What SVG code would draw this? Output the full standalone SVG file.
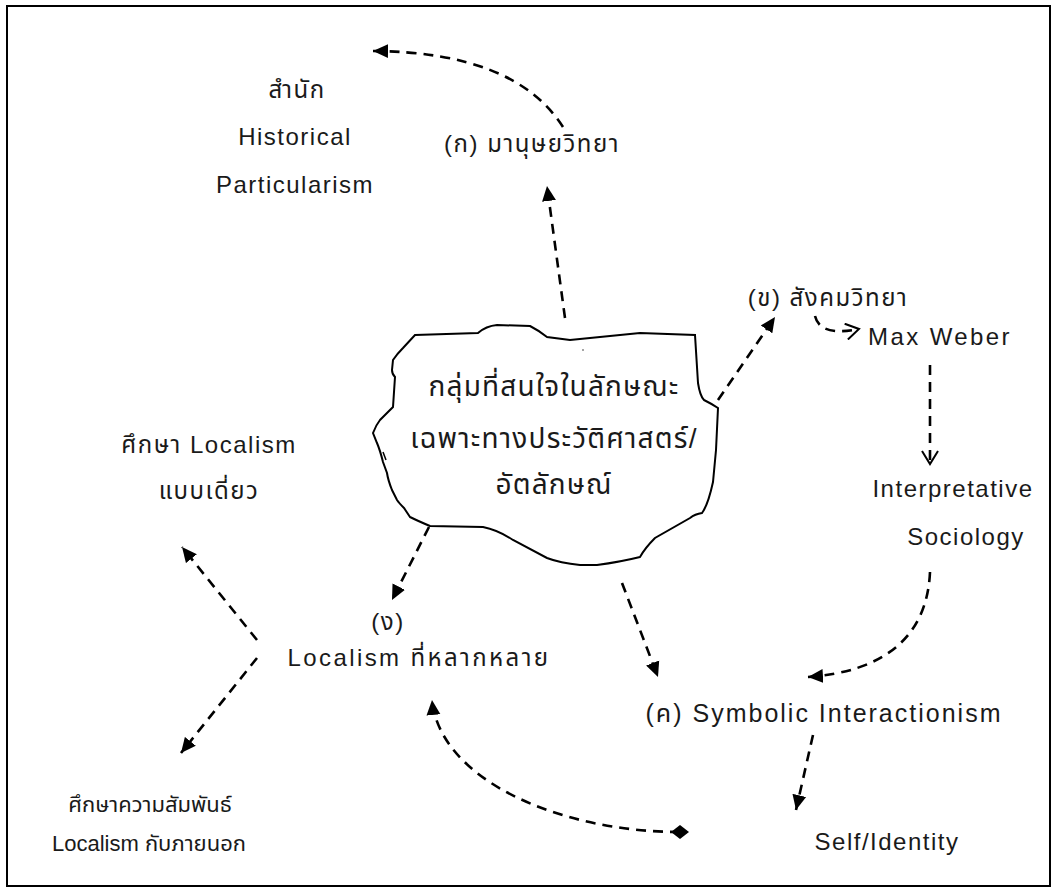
<svg xmlns="http://www.w3.org/2000/svg" width="1058" height="892" viewBox="0 0 1058 892">
  <style>
    .lbl { font-family: "Liberation Sans", "Noto Sans Thai", "Noto Sans", "DejaVu Sans", sans-serif; font-size: 24px; fill: #1a1a1a; letter-spacing: 1.5px; }
    .small { font-size: 22px; letter-spacing: 0; }
    .mid { text-anchor: middle; }
    .blobtxt { font-family: "Liberation Sans", "Noto Sans Thai", "Noto Sans", "DejaVu Sans", sans-serif; font-size: 28px; fill: #1a1a1a; text-anchor: middle; letter-spacing: 1.2px; }
    .dash { fill: none; stroke: #000; stroke-width: 2.6; stroke-dasharray: 10 7; }
    .solid-arrow { marker-end: url(#tri); }
    .open-arrow { marker-end: url(#vee); }
  </style>
  <defs>
    <marker id="tri" markerUnits="userSpaceOnUse" markerWidth="16" markerHeight="16" viewBox="0 0 16 16" refX="15" refY="8" orient="auto">
      <path d="M0,1 L15,8 L0,15 Z" fill="#000"/>
    </marker>
    <marker id="vee" markerUnits="userSpaceOnUse" markerWidth="16" markerHeight="18" viewBox="0 0 16 18" refX="14" refY="9" orient="auto">
      <path d="M1,1 L14,9 L1,17" fill="none" stroke="#000" stroke-width="2"/>
    </marker>
  </defs>

  <!-- page frame -->
  <rect x="7" y="6" width="1043" height="880" fill="#fff" stroke="#000" stroke-width="2"/>

  <!-- central cloud -->
  <g id="core">
    <path d="M415,335 L478,333 Q486,326 497,325 L530,326 Q538,330 547,337 L570,340 L640,333 L695,335 L698,383 Q700,396 704,400 Q712,404 718,408 L716,450 L713,482 Q708,505 702,513 Q695,514 690,518 L655,538 Q645,548 640,557 Q620,562 597,565 L580,565 Q560,563 547,558 Q528,548 513,540 Q498,530 483,527 L430,526 Q418,521 410,517 L404,508 Q399,503 397,500 L392,490 Q388,480 387,473 L383,462 Q380,450 377,443 L373,433 Q376,425 380,420 Q388,412 393,407 L395,377 Q392,374 392,370 L393,360 Q397,354 403,348 Z" fill="#fff" stroke="#000" stroke-width="2"/>
    <path d="M383,452 L386,460" stroke="#000" stroke-width="1.5"/>
    <circle cx="583" cy="350" r="0.8" fill="#333"/>
    <text class="blobtxt" x="554" y="396">กลุ่มที่สนใจในลักษณะ</text>
    <text class="blobtxt" x="554" y="448">เฉพาะทางประวัติศาสตร์/</text>
    <text class="blobtxt" x="554" y="494">อัตลักษณ์</text>
  </g>

  <g id="historical">
    <text class="lbl mid" x="297" y="98">สำนัก</text>
    <text class="lbl mid" x="295" y="145">Historical</text>
    <text class="lbl mid" x="295" y="193">Particularism</text>
  </g>

  <g id="anthropology">
    <text class="lbl mid" x="532" y="152">(ก) มานุษยวิทยา</text>
  </g>

  <g id="sociology">
    <text class="lbl mid" x="828" y="306">(ข) สังคมวิทยา</text>
  </g>

  <g id="weber">
    <text class="lbl mid" x="940" y="345" style="letter-spacing:2.4px">Max Weber</text>
  </g>

  <g id="interpretative">
    <text class="lbl mid" x="953" y="497">Interpretative</text>
    <text class="lbl mid" x="966" y="545">Sociology</text>
  </g>

  <g id="symbolic">
    <text class="lbl mid" x="824" y="722" style="font-size:25px;letter-spacing:2px">(ค) Symbolic Interactionism</text>
  </g>

  <g id="self">
    <text class="lbl mid" x="887" y="850">Self/Identity</text>
  </g>

  <g id="localism">
    <text class="lbl mid" x="388" y="630">(ง)</text>
    <text class="lbl mid" x="419" y="666" style="letter-spacing:2.4px">Localism ที่หลากหลาย</text>
  </g>

  <g id="single">
    <text class="lbl mid" x="209" y="453">ศึกษา Localism</text>
    <text class="lbl mid" x="209" y="499">แบบเดี่ยว</text>
  </g>

  <g id="relation">
    <text class="lbl small mid" x="150" y="812">ศึกษาความสัมพันธ์</text>
    <text class="lbl small mid" x="149" y="851">Localism กับภายนอก</text>
  </g>

  <g id="connectors">
    <path class="dash solid-arrow" d="M563,127 Q515,52 373,51"/>
    <path class="dash solid-arrow" d="M565,318 L547,186"/>
    <path class="dash solid-arrow" d="M718,400 L775,317"/>
    <path class="dash open-arrow" d="M815,316 Q820,337 859,329"/>
    <path class="dash open-arrow" d="M930,365 L930,464"/>
    <path class="dash solid-arrow" d="M930,572 C927,640 880,672 808,677"/>
    <path class="dash solid-arrow" d="M813,735 L796,810"/>
    <path class="dash solid-arrow" d="M429,527 L392,600"/>
    <path class="dash solid-arrow" d="M622,583 L658,677"/>
    <path class="dash solid-arrow" d="M257,640 L182,547"/>
    <path class="dash solid-arrow" d="M257,658 L181,753"/>
    <path class="dash solid-arrow" d="M680,832 C560,832 440,780 432,700"/>
    <path d="M671,832 L680,825 L689,832 L680,839 Z" fill="#000"/>
  </g>
</svg>
